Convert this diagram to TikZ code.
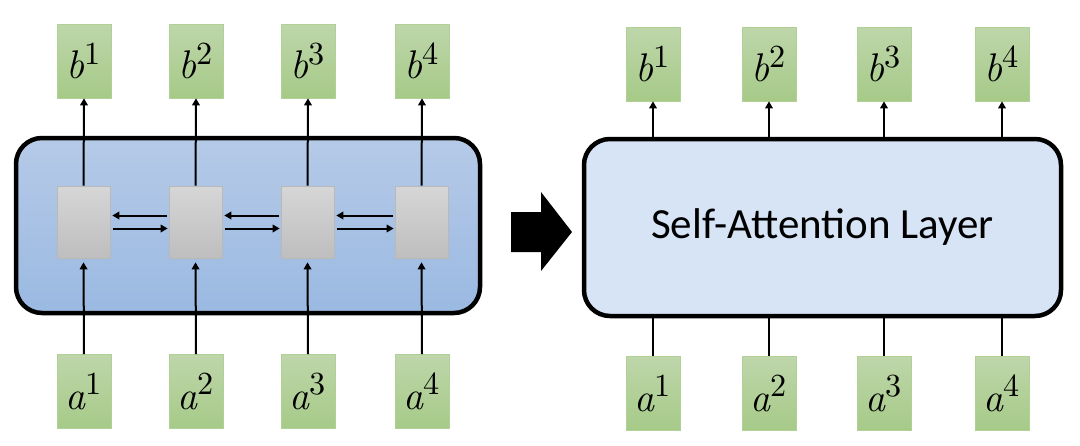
\documentclass[tikz,border=0pt]{standalone}
\usepackage{fontspec}
\usepackage{unicode-math}
\setmathfont{Latin Modern Math}
\newfontfamily\calib{Carlito}
\usetikzlibrary{arrows.meta}
\definecolor{gtop}{RGB}{190,214,170}
\definecolor{gbot}{RGB}{166,202,136}
\definecolor{gedge}{RGB}{176,208,150}
\definecolor{btop}{RGB}{182,202,232}
\definecolor{bbot}{RGB}{154,185,225}
\definecolor{ytop}{RGB}{214,214,214}
\definecolor{ybot}{RGB}{190,190,190}
\definecolor{yedge}{RGB}{185,185,185}
\definecolor{sabg}{RGB}{214,228,245}
\newcommand{\veclab}[2]{\fontsize{40}{44}\selectfont$\mathit{#1}^{\scalebox{1.15}{$\scriptstyle #2$}}$}
\tikzset{
  vecbox/.style={minimum width=54pt,minimum height=74pt,inner sep=0pt,
    top color=gtop,bottom color=gbot,draw=gedge,line width=0.6pt},
  cellbox/.style={minimum width=53pt,minimum height=72pt,inner sep=0pt,
    top color=ytop,bottom color=ybot,draw=yedge,line width=0.6pt},
  layer/.style={draw=black,line width=4.5pt,rounded corners=26pt,inner sep=0pt},
  conn/.style={draw=black,line width=2pt},
  arr/.style={conn,-{Triangle[length=7pt,width=7.5pt]}},
}
\begin{document}
\begin{tikzpicture}[x=1pt,y=-1pt]
\useasboundingbox (0,0) rectangle (1080,445);
% ---------- left: RNN ----------
\node[layer,minimum width=464pt,minimum height=175pt,top color=btop,bottom color=bbot] (rnn) at (248,225.5) {};
\foreach \i/\x in {1/84,2/196,3/308,4/422}{
  \node[vecbox] (lb\i) at (\x,61) {\veclab{b}{\i}};
  \node[vecbox] (la\i) at (\x,391.5) {\veclab{a}{\i}};
  \node[cellbox] (g\i) at (\x-0.5,222) {};
  \draw[arr,shorten >=4pt] (la\i.north) -- (g\i.south);
  \draw[arr] (g\i.north) -- (lb\i.south);
}
\foreach \i/\j in {1/2,2/3,3/4}{
  \draw[arr] ([yshift=6.5pt,xshift=-2pt]g\j.west) -- ([yshift=6.5pt,xshift=2pt]g\i.east);
  \draw[arr] ([yshift=-6.5pt,xshift=2.5pt]g\i.east) -- ([yshift=-6.5pt,xshift=-1pt]g\j.west);
}
% ---------- middle arrow ----------
\fill[black] (511,212) -- (541,212) -- (541,192) -- (572,232) -- (541,271) -- (541,252) -- (511,252) -- cycle;
% ---------- right: self-attention ----------
\node[layer,minimum width=477pt,minimum height=177pt,fill=sabg,
  font=\calib\fontsize{43}{48}\selectfont] (sa) at (822.5,227.5) {Self-Attention Layer};
\foreach \i/\x in {1/653,2/769,3/884,4/1002}{
  \node[vecbox] (rb\i) at (\x,64) {\veclab{b}{\i}};
  \node[vecbox] (ra\i) at (\x,393.5) {\veclab{a}{\i}};
  \draw[arr] (rb\i |- sa.north) -- (rb\i.south);
  \draw[conn] (ra\i.north) -- (ra\i |- sa.south);
}
\end{tikzpicture}
\end{document}
